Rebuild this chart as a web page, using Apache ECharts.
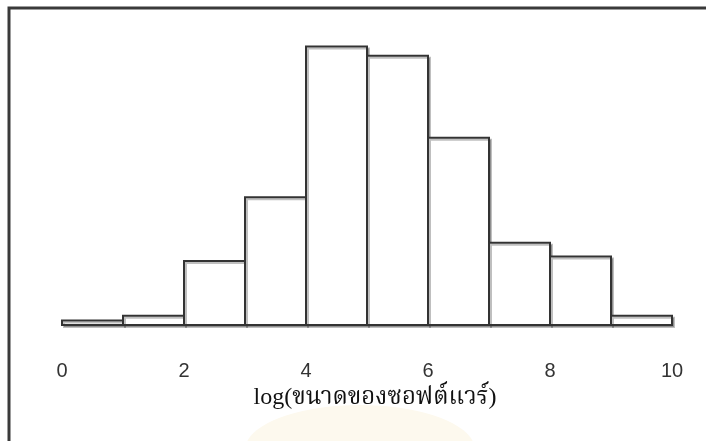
<!DOCTYPE html>
<html>
<head>
<meta charset="utf-8">
<script src="https://cdn.jsdelivr.net/npm/echarts@6/dist/echarts.min.js"></script>
<style>
  html, body { margin: 0; padding: 0; background: #fff; }
  #chart { width: 706px; height: 441px; }
</style>
</head>
<body>
<div id="chart"></div>
<script>
// Histogram bins: lower edge, upper edge, count
const binStarts = [0, 1, 2, 3, 4, 5, 6, 7, 8, 9];
const binEnds   = [1, 2, 3, 4, 5, 6, 7, 8, 9, 10];
const counts    = [1, 2, 14, 28, 61, 59, 41, 18, 15, 2];
const xTicks    = [0, 2, 4, 6, 8, 10];
const xTitle    = 'log(ขนาดของซอฟต์แวร์)';

const data = binStarts.map((s, i) => [s, binEnds[i], counts[i]]);

const chart = echarts.init(document.getElementById('chart'), null, { renderer: 'canvas' });

chart.setOption({
  animation: false,
  backgroundColor: '#ffffff',
  grid: { left: 62, right: 34, top: 10, bottom: 116 },
  xAxis: {
    type: 'value',
    min: 0,
    max: 10,
    interval: 2,
    axisLine: { show: false },
    axisTick: { show: false },
    splitLine: { show: false },
    axisLabel: {
      margin: 36,
      fontFamily: 'Liberation Sans, Arial, sans-serif',
      fontSize: 20,
      color: '#333333',
      textShadowColor: 'rgba(0,0,0,0.35)',
      textShadowOffsetX: 1,
      textShadowOffsetY: 1,
      formatter: v => (xTicks.indexOf(v) >= 0 ? String(v) : '')
    },
    name: xTitle,
    nameLocation: 'middle',
    nameGap: 58,
    nameTextStyle: {
      fontFamily: 'Liberation Serif, "Noto Serif Thai", "Noto Sans Thai", serif',
      fontSize: 24,
      color: '#111',
      padding: [0, 0, 0, 16]
    }
  },
  yAxis: {
    type: 'value',
    min: 0,
    max: 69,
    show: false
  },
  graphic: [
    // faint watermark behind the axis title
    {
      type: 'ellipse',
      z: -10,
      shape: { cx: 360, cy: 450, rx: 115, ry: 45 },
      style: { fill: '#fdf9ee' },
      silent: true
    },
    // frame lines along the top and left
    {
      type: 'polyline',
      shape: { points: [[9, 441], [9, 8], [706, 8]] },
      style: { stroke: '#3a3a3a', lineWidth: 3, fill: null },
      silent: true
    }
  ],
  series: [{
    type: 'custom',
    data: data,
    encode: { x: [0, 1], y: 2 },
    renderItem: function (params, api) {
      const p0 = api.coord([api.value(0), api.value(2)]);
      const p1 = api.coord([api.value(1), 0]);
      return {
        type: 'rect',
        shape: { x: p0[0], y: p0[1], width: p1[0] - p0[0], height: p1[1] - p0[1] },
        style: {
          fill: '#ffffff',
          stroke: '#333333',
          lineWidth: 2,
          shadowColor: 'rgba(0,0,0,0.25)',
          shadowOffsetX: 2,
          shadowOffsetY: 2,
          shadowBlur: 0
        }
      };
    }
  }]
});
</script>
</body>
</html>
